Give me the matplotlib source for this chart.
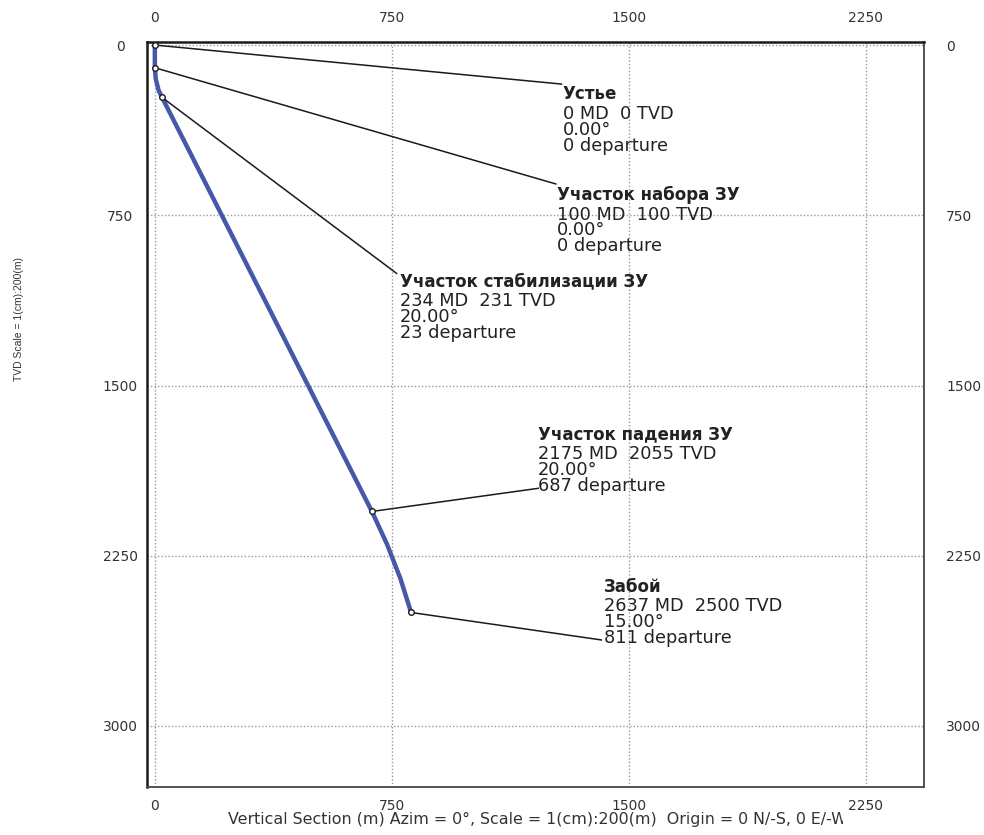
import matplotlib
matplotlib.use("Agg")
import matplotlib.pyplot as plt
from matplotlib.transforms import Bbox, TransformedBbox

plt.rcParams["font.family"] = ["DejaVu Sans"]

# well path (departure, TVD), m
path_dep = [0, 0, 3, 12, 23, 687, 735, 777, 811]
path_tvd = [0, 100, 150, 200, 231, 2055, 2200, 2350, 2500]

# survey stations for the annotations
st_names = ["Устье", "Участок набора ЗУ", "Участок стабилизации ЗУ",
            "Участок падения ЗУ", "Забой"]
st_md = [0, 100, 234, 2175, 2637]
st_tvd = [0, 100, 231, 2055, 2500]
st_inc = [0.00, 0.00, 20.00, 20.00, 15.00]
st_dep = [0, 0, 23, 687, 811]

# leader end points and label anchors (data units)
lead_x = [1287, 1269, 765, 1213, 1413]
lead_y = [172, 612, 1006, 1953, 2621]
lab_x = [1291, 1272, 775, 1212, 1421]
lab_y = [178, 619, 1002, 1676, 2346]

ticks_x = [0, 750, 1500, 2250]
ticks_y = [0, 750, 1500, 2250, 3000]

fig = plt.figure(figsize=(9.84, 8.35), dpi=100)
ax = fig.add_axes([0.149, 0.058, 0.790, 0.892])

ax.plot(path_dep, path_tvd, color="#4659a8", lw=3.2, solid_capstyle="round", zorder=3)

for i in range(len(st_names)):
    ax.plot([st_dep[i], lead_x[i]], [st_tvd[i], lead_y[i]], color="#1a1a1a", lw=1.1, zorder=4)
    ax.plot(st_dep[i], st_tvd[i], "o", ms=4, mfc="white", mec="#1a1a1a", mew=1.0, zorder=5)
    ax.text(lab_x[i], lab_y[i], st_names[i], ha="left", va="top",
            fontsize=12, fontweight="bold", color="#222222")
    body = f"{st_md[i]} MD  {st_tvd[i]} TVD\n{st_inc[i]:.2f}°\n{st_dep[i]} departure"
    ax.text(lab_x[i], lab_y[i] + 88, body, ha="left", va="top",
            fontsize=12.8, color="#222222", linespacing=0.84)

ax.set_xlim(-26, 2434)
ax.set_ylim(3267, -14.5)
ax.set_xticks(ticks_x)
ax.set_yticks(ticks_y)
ax.grid(True, color="#9a9a9a", ls=(0, (1, 1.5)), lw=1.0)
ax.tick_params(length=0, labelsize=10, colors="#333333")
ax.tick_params(axis="x", pad=9)
ax.tick_params(axis="y", pad=19)
for lbl in ax.get_yticklabels():
    lbl.set_horizontalalignment("center")

top = ax.secondary_xaxis("top")
top.set_xticks(ticks_x)
top.tick_params(length=0, labelsize=10, colors="#333333", pad=12)
top.spines["top"].set_visible(False)
right = ax.secondary_yaxis("right")
right.set_yticks(ticks_y)
right.tick_params(length=0, labelsize=10, colors="#333333", pad=16)
right.spines["right"].set_visible(False)

for side in ["left", "top"]:
    ax.spines[side].set_linewidth(1.8)
    ax.spines[side].set_color("#1a1a1a")
for side in ["right", "bottom"]:
    ax.spines[side].set_linewidth(1.3)
    ax.spines[side].set_color("#444444")

xl = fig.text(0.546, 0.018,
              "Vertical Section (m) Azim = 0°, Scale = 1(cm):200(m)  Origin = 0 N/-S, 0 E/-W",
              ha="center", va="center", fontsize=11.4, color="#333333")
xl.set_clip_box(TransformedBbox(Bbox([[0, 0], [0.857, 0.05]]), fig.transFigure))
xl.set_clip_on(True)
fig.text(0.019, 0.618, "TVD Scale = 1(cm):200(m)", rotation=90,
         ha="center", va="center", fontsize=7.5, family="Liberation Sans", color="#333333")

fig.savefig("out.png", dpi=100, facecolor="white")
